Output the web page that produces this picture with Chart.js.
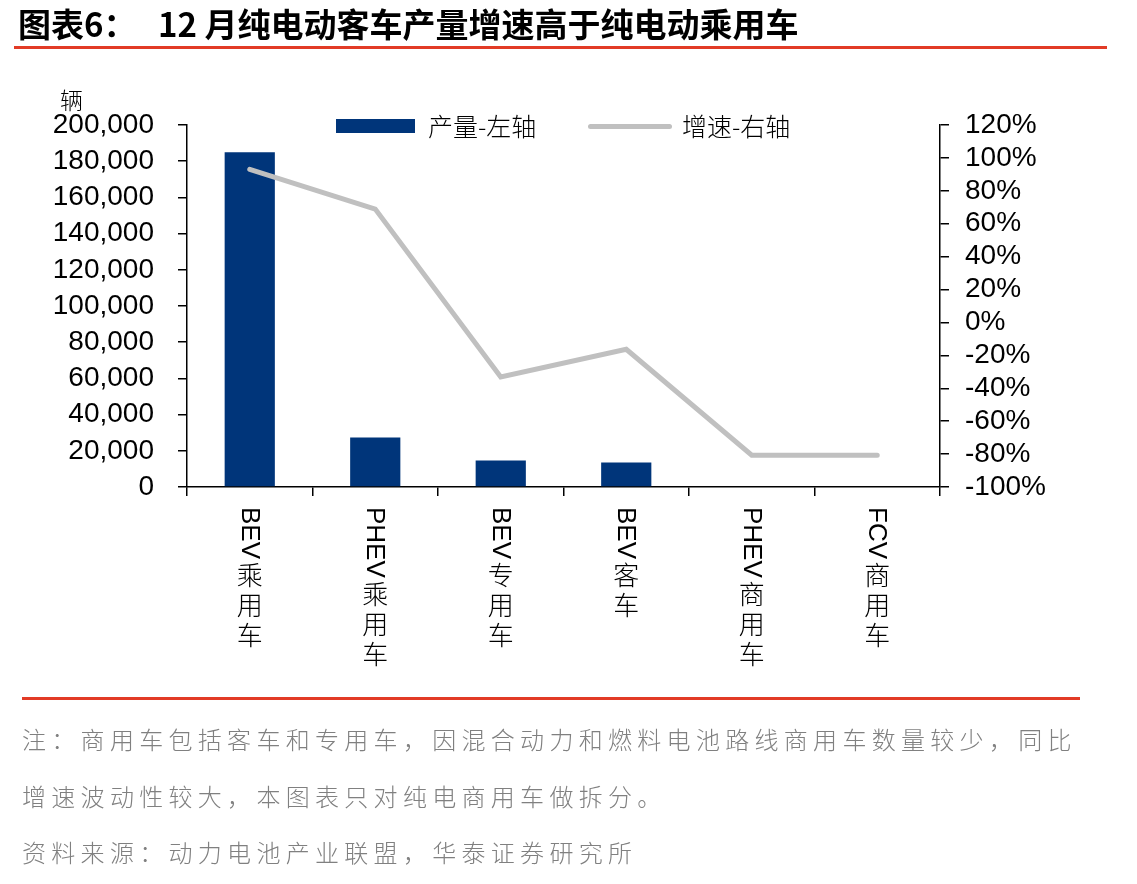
<!DOCTYPE html>
<html>
<head>
<meta charset="utf-8">
<script src="https://cdn.jsdelivr.net/npm/chart.js@4/dist/chart.umd.min.js"></script>
<style>
  html, body { margin:0; padding:0; background:#fff; }
  body { width:1137px; height:884px; position:relative; overflow:hidden; font-family:"Noto Sans CJK SC", sans-serif; }
  #wrap { position:absolute; left:0; top:0; width:1137px; height:884px; }
  .abs { position:absolute; white-space:pre; }
  .title { font-weight:700; font-size:33px; color:#000; line-height:1; top:7px; }
  .redline { position:absolute; background:#e23b26; }
  .leg { font-size:25px; line-height:1; color:#000; font-weight:300; }
  .foot { font-size:24px; letter-spacing:5.3px; color:#808080; left:22px; line-height:1; font-weight:300; }
</style>
</head>
<body>
<div id="wrap"><canvas id="c" width="1137" height="884"></canvas></div>

<div class="abs title" style="left:18px;">图表6：</div>
<div class="abs title" style="left:158px;">12 月纯电动客车产量增速高于纯电动乘用车</div>
<div class="redline" style="left:14px; top:46px; width:1093px; height:2.5px;"></div>

<div class="abs" style="left:60px; top:82px; font-size:23px; font-weight:300;">辆</div>

<div class="abs" style="left:336px; top:119px; width:79px; height:14px; background:#00357a;"></div>
<div class="abs leg" style="left:428px; top:113px;">产量-左轴</div>
<div class="abs" style="left:588px; top:123.5px; width:84px; height:5px; background:#c0c0c0; border-radius:3px;"></div>
<div class="abs leg" style="left:682px; top:113px;">增速-右轴</div>

<div class="redline" style="left:22px; top:697px; width:1058px; height:2.5px;"></div>
<div class="abs foot" style="top:727px;">注：商用车包括客车和专用车，因混合动力和燃料电池路线商用车数量较少，同比</div>
<div class="abs foot" style="top:784px;">增速波动性较大，本图表只对纯电商用车做拆分。</div>
<div class="abs foot" style="top:840px;">资料来源：动力电池产业联盟，华泰证券研究所</div>

<script>
// ---- data ----
const categoryLatin = ["BEV", "PHEV", "BEV", "BEV", "PHEV", "FCV"];
const categoryCJK   = ["乘用车", "乘用车", "专用车", "客车", "商用车", "商用车"];
const categories    = categoryLatin.map((l, i) => l + categoryCJK[i]);
const output        = [185000, 27300, 14600, 13500, 0, 0];        // 产量-左轴 (辆)
const growth        = [93.1, 68.9, -33.1, -16.3, -80.7, -80.7];  // 增速-右轴 (%)
const leftTicks     = { min: 0, max: 200000, step: 20000 };
const rightTicks    = { min: -100, max: 120, step: 20 };

const tickFont = { family: "'Liberation Sans', Arial, sans-serif", size: 28 };

const xLabelPlugin = {
  id: 'xLabels',
  afterDraw(chart) {
    const ctx = chart.ctx;
    const xs = chart.scales.x;
    const y0 = chart.chartArea.bottom + 20;
    ctx.save();
    ctx.fillStyle = '#000';
    categories.forEach((c, i) => {
      const x = xs.getPixelForValue(i);
      ctx.font = "26px 'Liberation Sans', Arial, sans-serif";
      const latin = categoryLatin[i];
      const w = ctx.measureText(latin).width;
      ctx.save();
      ctx.translate(x, y0);
      ctx.rotate(Math.PI / 2);
      ctx.textAlign = 'left';
      ctx.textBaseline = 'middle';
      ctx.fillText(latin, 0, 1);
      ctx.restore();
      ctx.font = "300 26px 'Noto Sans CJK SC', sans-serif";
      ctx.textAlign = 'center';
      ctx.textBaseline = 'top';
      const chars = Array.from(categoryCJK[i]);
      chars.forEach((ch, k) => {
        ctx.fillText(ch, x, y0 + w + 3 + k * 30);
      });
    });
    ctx.restore();
  }
};

new Chart(document.getElementById('c'), {
  data: {
    labels: categories,
    datasets: [
      {
        type: 'line', label: '增速-右轴', data: growth, yAxisID: 'y1',
        borderColor: '#c0c0c0', borderWidth: 5, pointRadius: 0, tension: 0,
        borderCapStyle: 'round', borderJoinStyle: 'miter', fill: false, order: 0
      },
      {
        type: 'bar', label: '产量-左轴', data: output, yAxisID: 'y',
        backgroundColor: '#00357a', categoryPercentage: 1.0, barPercentage: 0.4, order: 1
      }
    ]
  },
  options: {
    responsive: false, animation: false,
    layout: { padding: { top: 125, bottom: 884 - 487 - 10, left: 0, right: 0 } },
    plugins: { legend: { display: false }, tooltip: { enabled: false } },
    scales: {
      x: {
        type: 'category', offset: true,
        grid: { display: true, offset: true, drawOnChartArea: false, drawTicks: true, tickLength: 9, color: '#000', lineWidth: 1.5 },
        border: { display: true, color: '#000', width: 1.5 },
        ticks: { callback: () => '', font: { size: 1 }, padding: 0, autoSkip: false },
        afterFit(s) { s.height = 10; }
      },
      y: {
        position: 'left', min: leftTicks.min, max: leftTicks.max,
        grid: { drawOnChartArea: false, drawTicks: true, tickLength: 9, color: '#000', lineWidth: 1.5 },
        border: { display: true, color: '#000', width: 1.5 },
        ticks: { stepSize: leftTicks.step, autoSkip: false, color: '#000', font: tickFont, padding: 24,
                 callback: v => v.toLocaleString('en-US') },
        afterFit(s) { s.width = 187; }
      },
      y1: {
        position: 'right', min: rightTicks.min, max: rightTicks.max,
        grid: { drawOnChartArea: false, drawTicks: true, tickLength: 9, color: '#000', lineWidth: 1.5 },
        border: { display: true, color: '#000', width: 1.5 },
        ticks: { stepSize: rightTicks.step, autoSkip: false, color: '#000', font: tickFont, padding: 16,
                 callback: v => v + '%' },
        afterFit(s) { s.width = 1137 - 940; }
      }
    }
  },
  plugins: [xLabelPlugin]
});
</script>
</body>
</html>
